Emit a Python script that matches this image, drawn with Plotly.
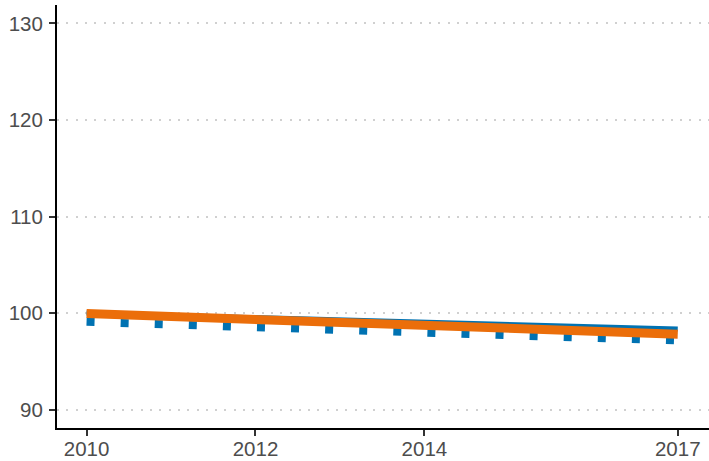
import plotly.graph_objects as go

years = [2010, 2011, 2012, 2013, 2014, 2015, 2016, 2017]
blue_solid = [100.0, 99.77, 99.53, 99.28, 99.05, 98.82, 98.57, 98.35]
orange_line = [99.95, 99.62, 99.3, 98.97, 98.65, 98.35, 98.08, 97.82]
blue_dotted = [99.09, 98.78, 98.47, 98.18, 97.93, 97.67, 97.43, 97.18]

x_ticks = [2010, 2012, 2014, 2017]
y_ticks = [90, 100, 110, 120, 130]

BLUE = "#0072B2"
ORANGE = "#EB6E0A"

fig = go.Figure()
fig.add_trace(go.Scatter(x=years, y=blue_dotted, mode="lines",
                         line=dict(color=BLUE, width=8, dash="8px,26.1px"),
                         showlegend=False, hoverinfo="skip"))
fig.add_trace(go.Scatter(x=years, y=blue_solid, mode="lines",
                         line=dict(color=BLUE, width=5),
                         showlegend=False))
fig.add_trace(go.Scatter(x=years, y=orange_line, mode="lines",
                         line=dict(color=ORANGE, width=9),
                         showlegend=False))

axis_font = dict(family="Liberation Sans, Arial, sans-serif", size=20.5, color="#4d4d4d")

fig.update_layout(
    width=709, height=461,
    margin=dict(l=57, r=0, t=5, b=33),
    paper_bgcolor="white", plot_bgcolor="white",
    xaxis=dict(range=[2009.65, 2017.37], tickmode="array", tickvals=x_ticks,
               ticktext=[str(t) for t in x_ticks],
               showgrid=False, zeroline=False,
               showline=True, linecolor="black", linewidth=2,
               ticks="outside", ticklen=6, tickwidth=2, tickcolor="#333333",
               ticklabelstandoff=-5,
               tickfont=axis_font, automargin=False),
    yaxis=dict(range=[88.1, 131.9], tickmode="array", tickvals=y_ticks,
               showgrid=True, gridcolor="#d0d0d0", gridwidth=1.5, griddash="2px,7.3px",
               zeroline=False,
               showline=True, linecolor="black", linewidth=2,
               ticks="outside", ticklen=6, tickwidth=2, tickcolor="#333333",
               ticklabelstandoff=2,
               tickfont=axis_font, automargin=False),
)

fig.write_html("out.html", config={"displayModeBar": False},
               post_script="document.body.style.margin='0px';document.body.style.padding='0px';")
